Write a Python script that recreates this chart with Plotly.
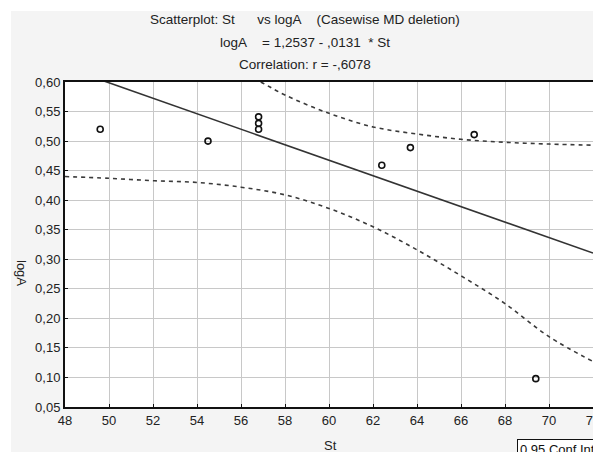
import plotly.graph_objects as go

# ---- data ----
st_points = [49.6, 54.5, 56.8, 56.8, 56.8, 62.4, 63.7, 66.6, 69.4]
loga_points = [0.520, 0.500, 0.541, 0.530, 0.520, 0.459, 0.489, 0.511, 0.098]

intercept = 1.2537
slope = -0.0131
line_st = [48, 72]

lower_st = [48, 50, 52, 54, 56, 58, 60, 62, 64, 66, 68, 70, 72]
lower_ci = [0.440, 0.437, 0.433, 0.430, 0.422, 0.409, 0.386, 0.355, 0.316, 0.272, 0.225, 0.169, 0.127]

upper_st = [55, 56, 57, 58, 60, 62, 64, 66, 68, 70, 72]
upper_ci = [0.640, 0.618, 0.598, 0.578, 0.547, 0.524, 0.512, 0.503, 0.498, 0.495, 0.493]

x_ticks = [48, 50, 52, 54, 56, 58, 60, 62, 64, 66, 68, 70, 72]
y_ticks = [0.05, 0.10, 0.15, 0.20, 0.25, 0.30, 0.35, 0.40, 0.45, 0.50, 0.55, 0.60]

title_lines = [
    "Scatterplot: St\u00a0\u00a0\u00a0\u00a0\u00a0\u00a0vs logA\u00a0\u00a0\u00a0\u00a0(Casewise MD deletion)",
    "logA\u00a0\u00a0\u00a0\u00a0= 1,2537 - ,0131\u00a0\u00a0* St",
    "Correlation: r = -,6078",
]
x_title = "St"
y_title = "logA"
legend_text = "0.95 Conf.Int."

FONT = "Liberation Sans, Arial, sans-serif"
OFF = 8  # page body margin in the browser
W, H = 601 - OFF, 452 - OFF
L, T = 65 - OFF, 82 - OFF
PR, PB = 593 - OFF, 407 - OFF  # plot right / bottom in figure px
R, B = W - PR, H - PB
pw, ph = PR - L, PB - T


def px_x(p):
    # p in reference-page pixels
    return (p - OFF - L) / pw


def px_y(p):
    return (PB - (p - OFF)) / ph


fig = go.Figure()

dash_style = dict(color="#3a3a3a", width=1.6, dash="4px,4px")
fig.add_trace(go.Scatter(x=lower_st, y=lower_ci, mode="lines", line=dict(shape="spline", **dash_style),
                         showlegend=False, hoverinfo="skip"))
fig.add_trace(go.Scatter(x=upper_st, y=upper_ci, mode="lines", line=dict(shape="spline", **dash_style),
                         showlegend=False, hoverinfo="skip"))
fig.add_trace(go.Scatter(x=line_st, y=[intercept + slope * v for v in line_st], mode="lines",
                         line=dict(color="#333333", width=1.6), showlegend=False, hoverinfo="skip"))
fig.add_trace(go.Scatter(x=st_points, y=loga_points, mode="markers",
                         marker=dict(symbol="circle-open", size=6, color="#111111", line=dict(width=1.6)),
                         showlegend=False))

axis_common = dict(showline=True, linecolor="#111111", linewidth=2, mirror=True,
                   showgrid=True, gridcolor="#c8c8c8", gridwidth=1, automargin=False,
                   ticks="inside", ticklen=3, tickcolor="#111111", zeroline=False,
                   tickfont=dict(family=FONT, size=13, color="#222222"))

fig.update_xaxes(range=[48, 72], tickvals=x_ticks, ticktext=[str(v) for v in x_ticks], **axis_common)
fig.update_yaxes(range=[0.05, 0.60], tickvals=y_ticks, tickformat=".2f", **axis_common)

annotations = []
for txt, ypix in zip(title_lines, [19, 43, 65]):
    annotations.append(dict(text=txt, xref="paper", yref="paper",
                            x=px_x(305), y=px_y(ypix), xanchor="center", yanchor="middle",
                            showarrow=False, font=dict(family=FONT, size=13.5, color="#222222")))
annotations.append(dict(text=x_title, xref="paper", yref="paper", x=px_x(330), y=px_y(445),
                        xanchor="center", yanchor="middle", showarrow=False,
                        font=dict(family=FONT, size=13, color="#222222")))
annotations.append(dict(text=y_title, xref="paper", yref="paper", x=px_x(22), y=px_y(273),
                        xanchor="center", yanchor="middle", textangle=90, showarrow=False,
                        font=dict(family=FONT, size=13, color="#222222")))
annotations.append(dict(text=legend_text, xref="paper", yref="paper", x=px_x(517), y=px_y(439),
                        xanchor="left", yanchor="top", showarrow=False, bordercolor="#111111", borderwidth=1,
                        borderpad=2, bgcolor="white", font=dict(family=FONT, size=13, color="#111111")))

shapes = [
    dict(type="rect", xref="paper", yref="paper", x0=px_x(0), x1=px_x(601),
         y0=px_y(11), y1=px_y(0), fillcolor="white", line=dict(width=0), layer="above"),
    dict(type="rect", xref="paper", yref="paper", x0=px_x(0), x1=px_x(11),
         y0=px_y(452), y1=px_y(0), fillcolor="white", line=dict(width=0), layer="above"),
]

fig.update_layout(width=W, height=H, margin=dict(l=L, r=R, t=T, b=B, autoexpand=False),
                  paper_bgcolor="#f4f4f4", plot_bgcolor="white", separators=",.",
                  annotations=annotations, shapes=shapes, showlegend=False)

fig.write_html("out.html")
